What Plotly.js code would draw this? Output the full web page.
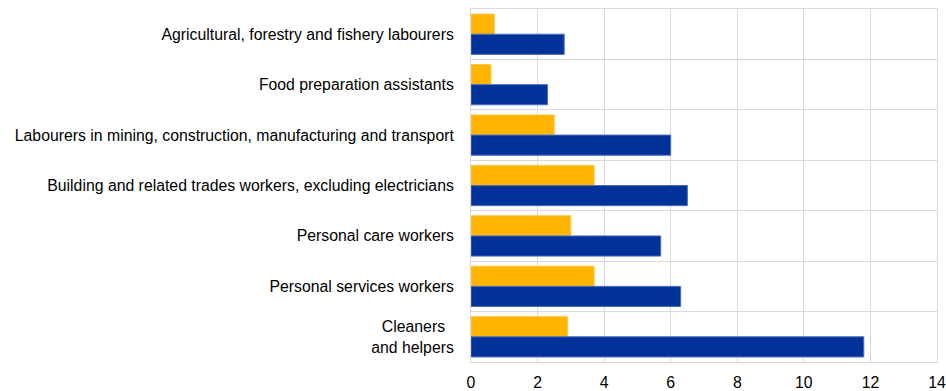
<!DOCTYPE html>
<html>
<head>
<meta charset="utf-8">
<script src="https://cdn.plot.ly/plotly-3.0.1.min.js"></script>
<style>
html,body{margin:0;padding:0;background:#fff;}
#chart{width:946px;height:391px;}
</style>
</head>
<body>
<div id="chart"></div>
<script>
const categories = [
  "Agricultural, forestry and fishery labourers",
  "Food preparation assistants",
  "Labourers in mining, construction, manufacturing and transport",
  "Building and related trades workers, excluding electricians",
  "Personal care workers",
  "Personal services workers",
  "Cleaners&nbsp;&nbsp;<br>and helpers"
];
const seriesYellow = [0.7, 0.6, 2.5, 3.7, 3.0, 3.7, 2.9];
const seriesBlue = [2.8, 2.3, 6.0, 6.5, 5.7, 6.3, 11.8];
const xTicks = [0, 2, 4, 6, 8, 10, 12, 14];

const pos = categories.map((_, i) => i);
const grid = '#d9d9d9';

const data = [
  {
    type: 'bar', orientation: 'h', name: 'yellow',
    x: seriesYellow, y: pos,
    marker: {color: '#FFB400', line: {color: '#FFC84D', width: 1}},
    hoverinfo: 'x'
  },
  {
    type: 'bar', orientation: 'h', name: 'blue',
    x: seriesBlue, y: pos,
    marker: {color: '#003299', line: {color: '#4D6FBA', width: 1}},
    hoverinfo: 'x'
  }
];

const layout = {
  width: 946, height: 391,
  margin: {l: 471, r: 9, t: 9, b: 29},
  paper_bgcolor: '#fff', plot_bgcolor: '#fff',
  showlegend: false,
  barmode: 'group', bargap: 0.2, bargroupgap: 0,
  font: {family: '"Liberation Sans", Arial, sans-serif', size: 15.8, color: '#000'},
  xaxis: {
    range: [0, 14], tickvals: xTicks, ticktext: xTicks.map(String),
    showgrid: true, gridcolor: grid, gridwidth: 1,
    zeroline: false, showline: true, mirror: true, linecolor: grid, linewidth: 1,
    ticks: '', ticklabelstandoff: 6,
    tickfont: {size: 15.8, color: '#000'}
  },
  yaxis: {
    range: [6.5, -0.5], tickvals: pos, ticktext: categories,
    showgrid: false, zeroline: false,
    showline: true, mirror: true, linecolor: grid, linewidth: 1,
    ticks: '', ticklabelstandoff: 13,
    minor: {tick0: 0.5, dtick: 1, showgrid: true, gridcolor: grid, gridwidth: 1, ticks: ''},
    tickfont: {size: 15.8, color: '#000'}
  }
};

Plotly.newPlot('chart', data, layout, {displayModeBar: false, staticPlot: true});
</script>
</body>
</html>
